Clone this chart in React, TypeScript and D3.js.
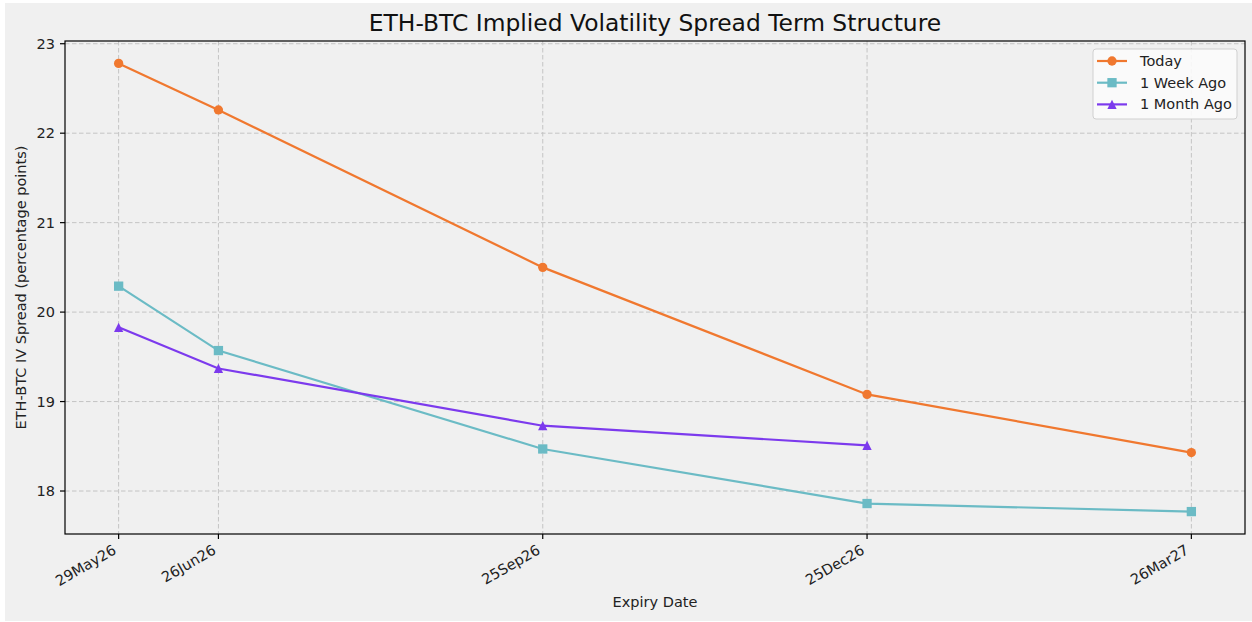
import React from "react";
import * as d3 from "d3";

const expiries = ["29May26", "26Jun26", "25Sep26", "25Dec26", "26Mar27"];
const todayValues = [22.78, 22.26, 20.5, 19.08, 18.43];
const weekAgoValues = [20.29, 19.57, 18.47, 17.86, 17.77];
const monthAgoValues: (number | null)[] = [19.83, 19.37, 18.73, 18.51, null];
const yTickValues = [18, 19, 20, 21, 22, 23];
const seriesNames = ["Today", "1 Week Ago", "1 Month Ago"];
const seriesColors = ["#F0782F", "#6BBBC5", "#7C3AED"];
const seriesMarkers = ["circle", "square", "triangle"];

const W = 1252;
const H = 622;
const M = { left: 65, right: 1245, top: 41, bottom: 534 };
const FONT = "DejaVu Sans, sans-serif";

function Marker({ kind, x, y, color }: { kind: string; x: number; y: number; color: string }) {
  const s = 9.3;
  if (kind === "circle") return <circle cx={x} cy={y} r={s / 2} fill={color} />;
  if (kind === "square") return <rect x={x - s / 2} y={y - s / 2} width={s} height={s} fill={color} />;
  return (
    <path
      d={`M${x},${y - s / 2}L${x - s / 2},${y + s / 2}L${x + s / 2},${y + s / 2}Z`}
      fill={color}
    />
  );
}

export default function App() {
  const parse = d3.timeParse("%d%b%y");
  const dates = expiries.map((e) => parse(e) as Date);
  const series = [todayValues, weekAgoValues, monthAgoValues];

  const [dmin, dmax] = d3.extent(dates) as [Date, Date];
  const span = +dmax - +dmin;
  const x = d3
    .scaleTime()
    .domain([new Date(+dmin - span * 0.05), new Date(+dmax + span * 0.05)])
    .range([M.left, M.right]);

  const allVals = series.flat().filter((v) => v != null) as number[];
  const vmin = d3.min(allVals)!;
  const vmax = d3.max(allVals)!;
  const vs = vmax - vmin;
  const y = d3
    .scaleLinear()
    .domain([vmin - vs * 0.05, vmax + vs * 0.05])
    .range([M.bottom, M.top]);

  const lineGen = d3
    .line<{ d: Date; v: number | null }>()
    .defined((p) => p.v != null)
    .x((p) => x(p.d))
    .y((p) => y(p.v as number));

  const gridStyle = { stroke: "#c4c4c4", strokeWidth: 1, strokeDasharray: "4.5,2.5" };

  return (
    <svg
      width={W}
      height={H}
      style={{ position: "absolute", left: 0, top: 0, background: "#ffffff" }}
      fontFamily={FONT}
    >
      <rect x={5} y={3} width={W - 5} height={H - 4} fill="#f0f0f0" />
      {/* grid */}
      {dates.map((d, i) => (
        <line key={"gx" + i} x1={x(d)} x2={x(d)} y1={M.top} y2={M.bottom} {...gridStyle} />
      ))}
      {yTickValues.map((t) => (
        <line key={"gy" + t} x1={M.left} x2={M.right} y1={y(t)} y2={y(t)} {...gridStyle} />
      ))}
      {/* lines */}
      {series.map((vals, si) => {
        const pts = dates.map((d, i) => ({ d, v: vals[i] }));
        return (
          <g key={"s" + si}>
            <path d={lineGen(pts) || ""} fill="none" stroke={seriesColors[si]} strokeWidth={2.2} />
            {pts
              .filter((p) => p.v != null)
              .map((p, i) => (
                <Marker key={i} kind={seriesMarkers[si]} x={x(p.d)} y={y(p.v as number)} color={seriesColors[si]} />
              ))}
          </g>
        );
      })}
      {/* spines */}
      <rect
        x={M.left}
        y={M.top}
        width={M.right - M.left}
        height={M.bottom - M.top}
        fill="none"
        stroke="#000"
        strokeWidth={1.2}
      />
      {/* x ticks */}
      {dates.map((d, i) => (
        <g key={"xt" + i}>
          <line x1={x(d)} x2={x(d)} y1={M.bottom} y2={M.bottom + 5} stroke="#000" strokeWidth={1.2} />
          <text
            x={x(d) - 1.5}
            y={M.bottom + 19}
            fontSize={14.5}
            textAnchor="end"
            fill="#222"
            transform={`rotate(-30, ${x(d) - 1.5}, ${M.bottom + 19})`}
          >
            {expiries[i]}
          </text>
        </g>
      ))}
      {/* y ticks */}
      {yTickValues.map((t) => (
        <g key={"yt" + t}>
          <line x1={M.left - 5} x2={M.left} y1={y(t)} y2={y(t)} stroke="#000" strokeWidth={1.2} />
          <text x={M.left - 10} y={y(t)} dy="0.35em" fontSize={14.5} textAnchor="end" fill="#222">
            {t}
          </text>
        </g>
      ))}
      {/* labels */}
      <text x={(M.left + M.right) / 2} y={31} fontSize={23.4} textAnchor="middle" fill="#111">
        ETH-BTC Implied Volatility Spread Term Structure
      </text>
      <text x={(M.left + M.right) / 2} y={607} fontSize={14.5} textAnchor="middle" fill="#222">
        Expiry Date
      </text>
      <text
        x={26}
        y={(M.top + M.bottom) / 2}
        fontSize={14.5}
        textAnchor="middle"
        fill="#222"
        transform={`rotate(-90, 26, ${(M.top + M.bottom) / 2})`}
      >
        ETH-BTC IV Spread (percentage points)
      </text>
      {/* legend */}
      <g>
        <rect x={1093} y={49} width={144} height={70} rx={3} fill="#fbfbfb" fillOpacity={0.9} stroke="#d0d0d0" />
        {seriesNames.map((n, i) => {
          const ly = 61 + i * 21.7;
          return (
            <g key={"lg" + i}>
              <line x1={1097} x2={1127} y1={ly} y2={ly} stroke={seriesColors[i]} strokeWidth={2.2} />
              <Marker kind={seriesMarkers[i]} x={1112} y={ly} color={seriesColors[i]} />
              <text x={1140} y={ly} dy="0.35em" fontSize={14.5} fill="#222">
                {n}
              </text>
            </g>
          );
        })}
      </g>
    </svg>
  );
}
